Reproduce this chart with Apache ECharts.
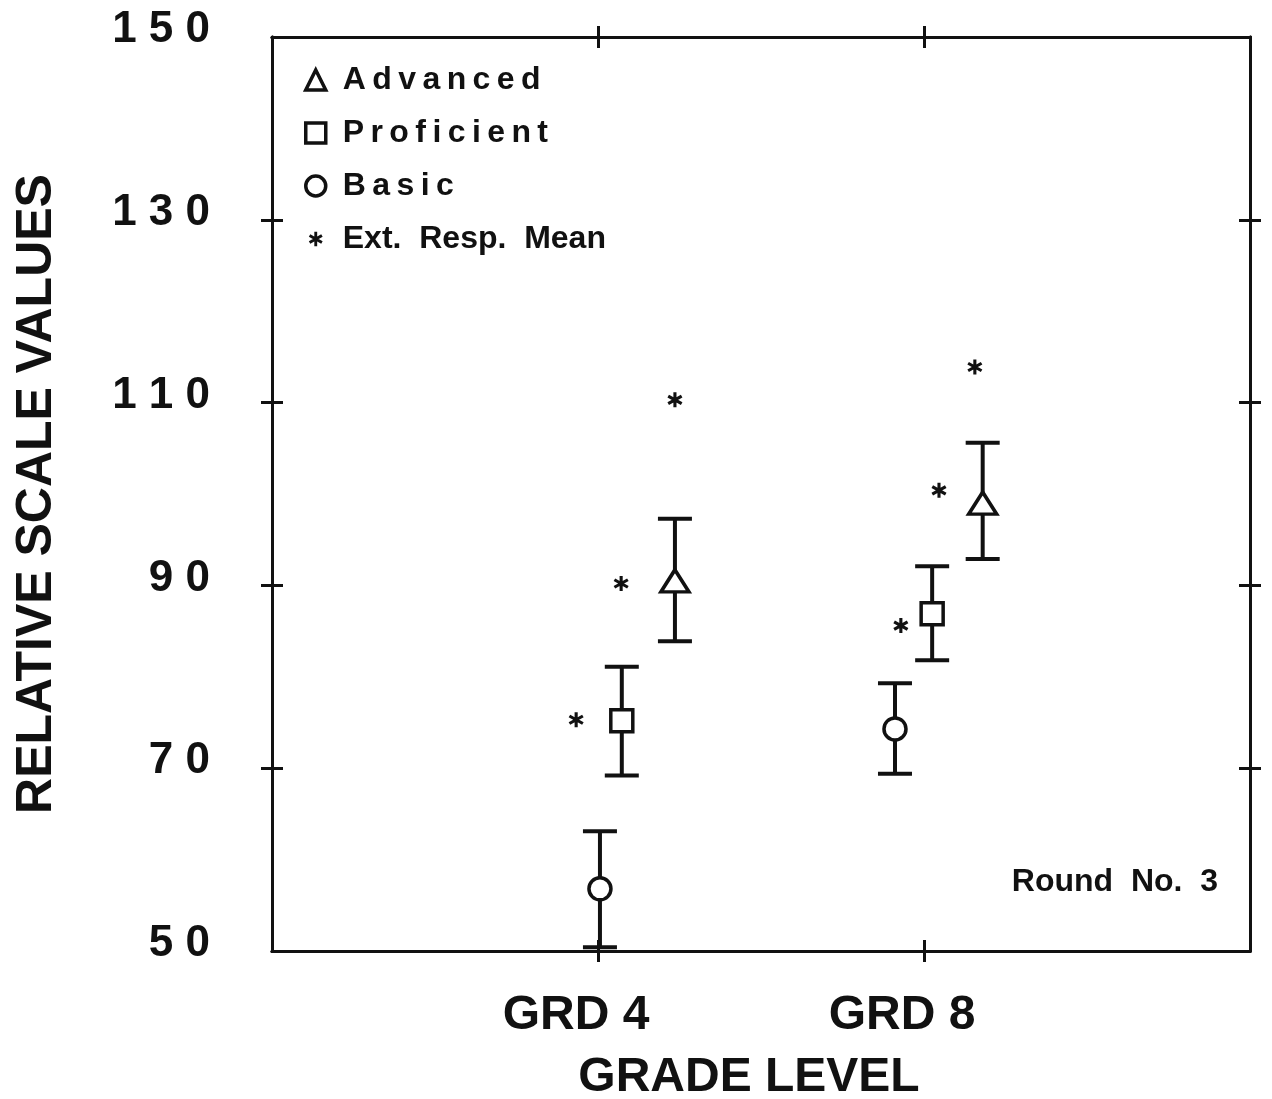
<!DOCTYPE html>
<html>
<head>
<meta charset="utf-8">
<title>Relative Scale Values by Grade Level</title>
<script src="https://cdn.jsdelivr.net/npm/echarts@6/dist/echarts.min.js"></script>
<style>
  html, body { margin: 0; padding: 0; background: #fff; }
  #chart { width: 1272px; height: 1099px; }
</style>
</head>
<body>
<div id="chart"></div>
<script>
// Grade categories and their positions on the horizontal value axis
const grades = ['GRD 4', 'GRD 8'];
const gradePos = [1, 2];

// Y-axis tick labels
const yTicks = [50, 70, 90, 110, 130, 150];

// Advanced: x position (dodged around the grade), mean, lower and upper bound
const advancedX = [1.236, 2.18];
const advancedMean = [90.5, 99.0];
const advancedLow = [83.9, 92.9];
const advancedHigh = [97.3, 105.6];

// Proficient
const proficientX = [1.073, 2.025];
const proficientMean = [75.2, 86.9];
const proficientLow = [69.2, 81.8];
const proficientHigh = [81.1, 92.1];

// Basic
const basicX = [1.006, 1.911];
const basicMean = [56.8, 74.3];
const basicLow = [50.4, 69.4];
const basicHigh = [63.1, 79.3];

// Extended response means
const extRespX = [0.933, 1.071, 1.236, 1.929, 2.046, 2.156];
const extRespMean = [75.3, 90.2, 110.3, 85.6, 100.4, 113.9];

const FONT = "'Liberation Sans', Arial, Helvetica, sans-serif";
const INK = '#111';

// six-pointed asterisk built from three bars
const STAR_BARS = 'M8 0L12 0L12 20L8 20Z' +
  'M0.34 6.73L2.34 3.27L19.66 13.27L17.66 16.73Z' +
  'M2.34 16.73L0.34 13.27L17.66 3.27L19.66 6.73Z';
const ASTERISK = 'path://' + STAR_BARS;
// same asterisk with extra empty bounds so the legend icon stays small
const ASTERISK_SMALL = 'path://M-4 -4M24 24' + STAR_BARS;

function pairs(xs, ys) { return xs.map((x, i) => [x, ys[i]]); }
function triples(xs, lo, hi) { return xs.map((x, i) => [x, lo[i], hi[i]]); }

// vertical interval with horizontal caps
function errorBar(params, api) {
  const x = api.value(0);
  const top = api.coord([x, api.value(2)]);
  const bot = api.coord([x, api.value(1)]);
  const half = 17;
  const style = { stroke: INK, lineWidth: 4 };
  return {
    type: 'group',
    children: [
      { type: 'line', shape: { x1: top[0], y1: top[1], x2: bot[0], y2: bot[1] }, style },
      { type: 'line', shape: { x1: top[0] - half, y1: top[1], x2: top[0] + half, y2: top[1] }, style },
      { type: 'line', shape: { x1: bot[0] - half, y1: bot[1], x2: bot[0] + half, y2: bot[1] }, style }
    ]
  };
}

function spaced(s) { return s.split('').join('\u2009'); }

const frameLine = { show: true, onZero: false, lineStyle: { color: INK, width: 3 } };

function xAxisDef(position, inside, withLabels) {
  return {
    type: 'value', min: 0, max: 3, position,
    axisLine: frameLine,
    splitLine: { show: false },
    axisTick: { show: true, inside, length: 11, customValues: gradePos,
      lineStyle: { color: INK, width: 3 } },
    axisLabel: withLabels ? {
      show: true, customValues: gradePos, margin: 41,
      formatter: v => grades[gradePos.indexOf(v)],
      padding: [0, 44, 0, 0],
      color: INK, fontFamily: FONT, fontWeight: 'bold', fontSize: 48
    } : { show: false },
    name: withLabels ? 'GRADE LEVEL' : '',
    nameLocation: 'middle', nameGap: 103,
    nameTextStyle: { color: INK, fontFamily: FONT, fontWeight: 'bold', fontSize: 48,
      padding: [0, 24, 0, 0] }
  };
}

function yAxisDef(position, inside, withLabels) {
  return {
    type: 'value', min: 50, max: 150, interval: 20, position,
    axisLine: frameLine,
    splitLine: { show: false },
    axisTick: { show: true, inside, length: 11, customValues: [70, 90, 110, 130],
      lineStyle: { color: INK, width: 3 } },
    axisLabel: withLabels ? {
      show: true, customValues: yTicks, margin: 62,
      formatter: v => String(v).split('').join(' '),
      verticalAlign: 'bottom', lineHeight: 14,
      color: INK, fontFamily: FONT, fontWeight: 'bold', fontSize: 44
    } : { show: false },
    name: withLabels ? 'RELATIVE SCALE VALUES' : '',
    nameLocation: 'middle', nameGap: 210, nameRotate: 90,
    nameTextStyle: { color: INK, fontFamily: FONT, fontWeight: 'bold', fontSize: 50 }
  };
}

const hollow = { color: '#fff', borderColor: INK, borderWidth: 3.5, opacity: 1 };
const legendIcon = { color: '#fff', borderColor: INK, borderWidth: 3.5 };

const option = {
  backgroundColor: '#fff',
  animation: false,
  grid: { left: 272, right: 22, top: 37, bottom: 148, outerBoundsMode: 'none' },
  xAxis: [
    xAxisDef('bottom', false, true),
    xAxisDef('bottom', true, false),
    xAxisDef('top', false, false),
    xAxisDef('top', true, false)
  ],
  yAxis: [
    yAxisDef('left', false, true),
    yAxisDef('left', true, false),
    yAxisDef('right', false, false),
    yAxisDef('right', true, false)
  ],
  legend: {
    orient: 'vertical', left: 299, top: 58,
    itemWidth: 20, itemHeight: 20, itemGap: 19,
    selectedMode: false,
    data: [
      { name: 'Advanced', itemStyle: legendIcon },
      { name: 'Proficient', itemStyle: legendIcon },
      { name: 'Basic', itemStyle: legendIcon },
      { name: 'Ext.  Resp.  Mean', icon: ASTERISK_SMALL,
        itemStyle: { color: INK, borderWidth: 0 } }
    ],
    formatter: name => name.indexOf('.') >= 0 ? name : spaced(name),
    textStyle: { color: INK, fontFamily: FONT, fontWeight: 'bold', fontSize: 32,
      lineHeight: 34, padding: [0, 0, 0, 12] }
  },
  graphic: [{
    type: 'text', right: 54, top: 866,
    style: { text: 'Round  No.  3', fill: INK, font: 'bold 32px ' + FONT }
  }],
  series: [
    { type: 'custom', name: 'Advanced range', renderItem: errorBar,
      data: triples(advancedX, advancedLow, advancedHigh), z: 1 },
    { type: 'custom', name: 'Proficient range', renderItem: errorBar,
      data: triples(proficientX, proficientLow, proficientHigh), z: 1 },
    { type: 'custom', name: 'Basic range', renderItem: errorBar,
      data: triples(basicX, basicLow, basicHigh), z: 1 },
    { type: 'scatter', name: 'Advanced', symbol: 'triangle', symbolSize: [28, 22],
      itemStyle: hollow, data: pairs(advancedX, advancedMean), z: 3 },
    { type: 'scatter', name: 'Proficient', symbol: 'rect', symbolSize: 22,
      itemStyle: hollow, data: pairs(proficientX, proficientMean), z: 3 },
    { type: 'scatter', name: 'Basic', symbol: 'circle', symbolSize: 22,
      itemStyle: hollow, data: pairs(basicX, basicMean), z: 3 },
    { type: 'scatter', name: 'Ext.  Resp.  Mean', symbol: ASTERISK, symbolSize: 15,
      itemStyle: { color: INK, opacity: 1 }, data: pairs(extRespX, extRespMean), z: 3 }
  ]
};

const chart = echarts.init(document.getElementById('chart'), null, { renderer: 'canvas' });
chart.setOption(option);
</script>
</body>
</html>
